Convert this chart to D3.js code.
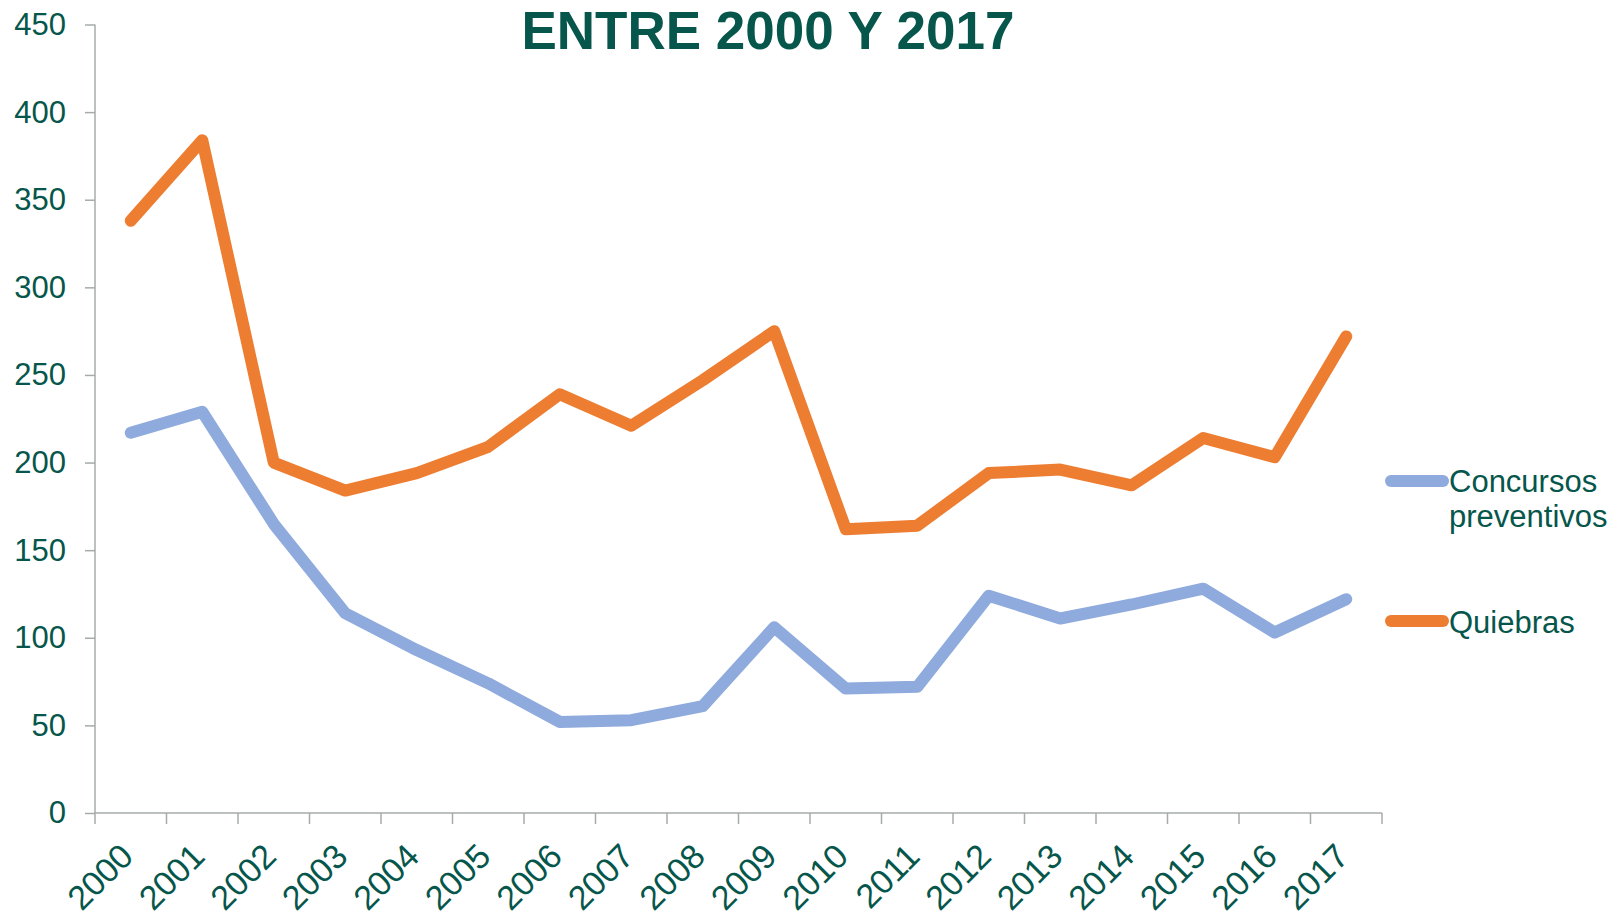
<!DOCTYPE html>
<html>
<head>
<meta charset="utf-8">
<script src="https://cdn.jsdelivr.net/npm/d3@7"></script>
<style>
  body { margin: 0; background: #fff; }
  text { font-family: "Liberation Sans", Arial, sans-serif; }
</style>
</head>
<body>
<script>
// data
var years = ["2000","2001","2002","2003","2004","2005","2006","2007","2008",
             "2009","2010","2011","2012","2013","2014","2015","2016","2017"];
var concursos = [217, 229, 165, 114, 93, 74, 52, 53, 61, 106, 71, 72, 124, 111, 119, 128, 103, 122];
var quiebras  = [338, 384, 200, 184, 194, 209, 239, 221, 247, 275, 162, 164, 194, 196, 187, 214, 203, 272];
var yTicks = [0, 50, 100, 150, 200, 250, 300, 350, 400, 450];
var seriesNames = ["Concursos preventivos", "Quiebras"];

var textColor = "#06564b";
var axisColor = "#a6abaa";
var colors = ["#8faadc", "#ed7d31"];

var width = 1616;
var height = 917;

var margins = {
  top: 24.5,
  left: 95,
  right: 234,
  bottom: 104
};

var svg = d3.select("body").append("svg")
  .attr("width", width)
  .attr("height", height);

var plotW = width - margins.left - margins.right;
var plotH = height - margins.top - margins.bottom;

var xScale = d3.scaleBand()
  .domain(years)
  .range([margins.left, margins.left + plotW]);

var yScale = d3.scaleLinear()
  .domain([0, 450])
  .range([margins.top + plotH, margins.top]);

// title
svg.append("text")
  .attr("x", 768)
  .attr("y", 49)
  .attr("text-anchor", "middle")
  .attr("font-size", 53)
  .attr("font-weight", "bold")
  .attr("fill", textColor)
  .text("ENTRE 2000 Y 2017");

// y axis
var yAxis = d3.axisLeft(yScale).tickValues(yTicks).tickSize(10).tickPadding(19);
var yG = svg.append("g")
  .attr("transform", "translate(" + margins.left + ",0)")
  .call(yAxis);
yG.select(".domain").attr("stroke", axisColor).attr("stroke-width", 1.5)
  .attr("d", "M0," + yScale(450) + "V" + yScale(0));
yG.selectAll(".tick line").attr("stroke", axisColor).attr("stroke-width", 1.5);
yG.selectAll(".tick text")
  .attr("font-size", 31)
  .attr("font-family", "Liberation Sans, Arial, sans-serif")
  .attr("fill", textColor);

// x axis (ticks between categories)
var xG = svg.append("g").attr("class", "xAxis");
xG.append("line")
  .attr("x1", margins.left).attr("x2", margins.left + plotW)
  .attr("y1", yScale(0)).attr("y2", yScale(0))
  .attr("stroke", axisColor).attr("stroke-width", 1.5);
var edges = years.map(function(d){ return xScale(d); });
edges.push(margins.left + plotW);
xG.selectAll(".xtick")
  .data(edges)
  .enter()
  .append("line")
  .attr("x1", function(d){ return d; })
  .attr("x2", function(d){ return d; })
  .attr("y1", yScale(0))
  .attr("y2", yScale(0) + 11)
  .attr("stroke", axisColor).attr("stroke-width", 1.5);
xG.selectAll(".xlabel")
  .data(years)
  .enter()
  .append("text")
  .attr("transform", function(d){
    return "translate(" + (xScale(d) + xScale.bandwidth() / 2 - 4) + "," + (yScale(0) + 37) + ") rotate(-45)";
  })
  .attr("text-anchor", "end")
  .attr("dy", "0.35em")
  .attr("font-size", 34)
  .attr("fill", textColor)
  .text(function(d){ return d; });

// lines
var line = d3.line()
  .x(function(d, i){ return xScale(years[i]) + xScale.bandwidth() / 2; })
  .y(function(d){ return yScale(d); });

[concursos, quiebras].forEach(function(vals, k){
  svg.append("path")
    .datum(vals)
    .attr("d", line)
    .attr("fill", "none")
    .attr("stroke", colors[k])
    .attr("stroke-width", 12)
    .attr("stroke-linejoin", "round")
    .attr("stroke-linecap", "round");
});

// legend
var legend = svg.append("g");
var legendY = [481, 621];
seriesNames.forEach(function(name, k){
  legend.append("line")
    .attr("x1", 1391).attr("x2", 1443)
    .attr("y1", legendY[k]).attr("y2", legendY[k])
    .attr("stroke", colors[k])
    .attr("stroke-width", 12)
    .attr("stroke-linecap", "round");
});
var t1 = legend.append("text")
  .attr("x", 1449).attr("y", 492)
  .attr("font-size", 31)
  .attr("fill", textColor);
t1.append("tspan").attr("x", 1449).text("Concursos");
t1.append("tspan").attr("x", 1449).attr("dy", 35).text("preventivos");
legend.append("text")
  .attr("x", 1449).attr("y", 633)
  .attr("font-size", 31)
  .attr("fill", textColor)
  .text("Quiebras");
</script>
</body>
</html>
